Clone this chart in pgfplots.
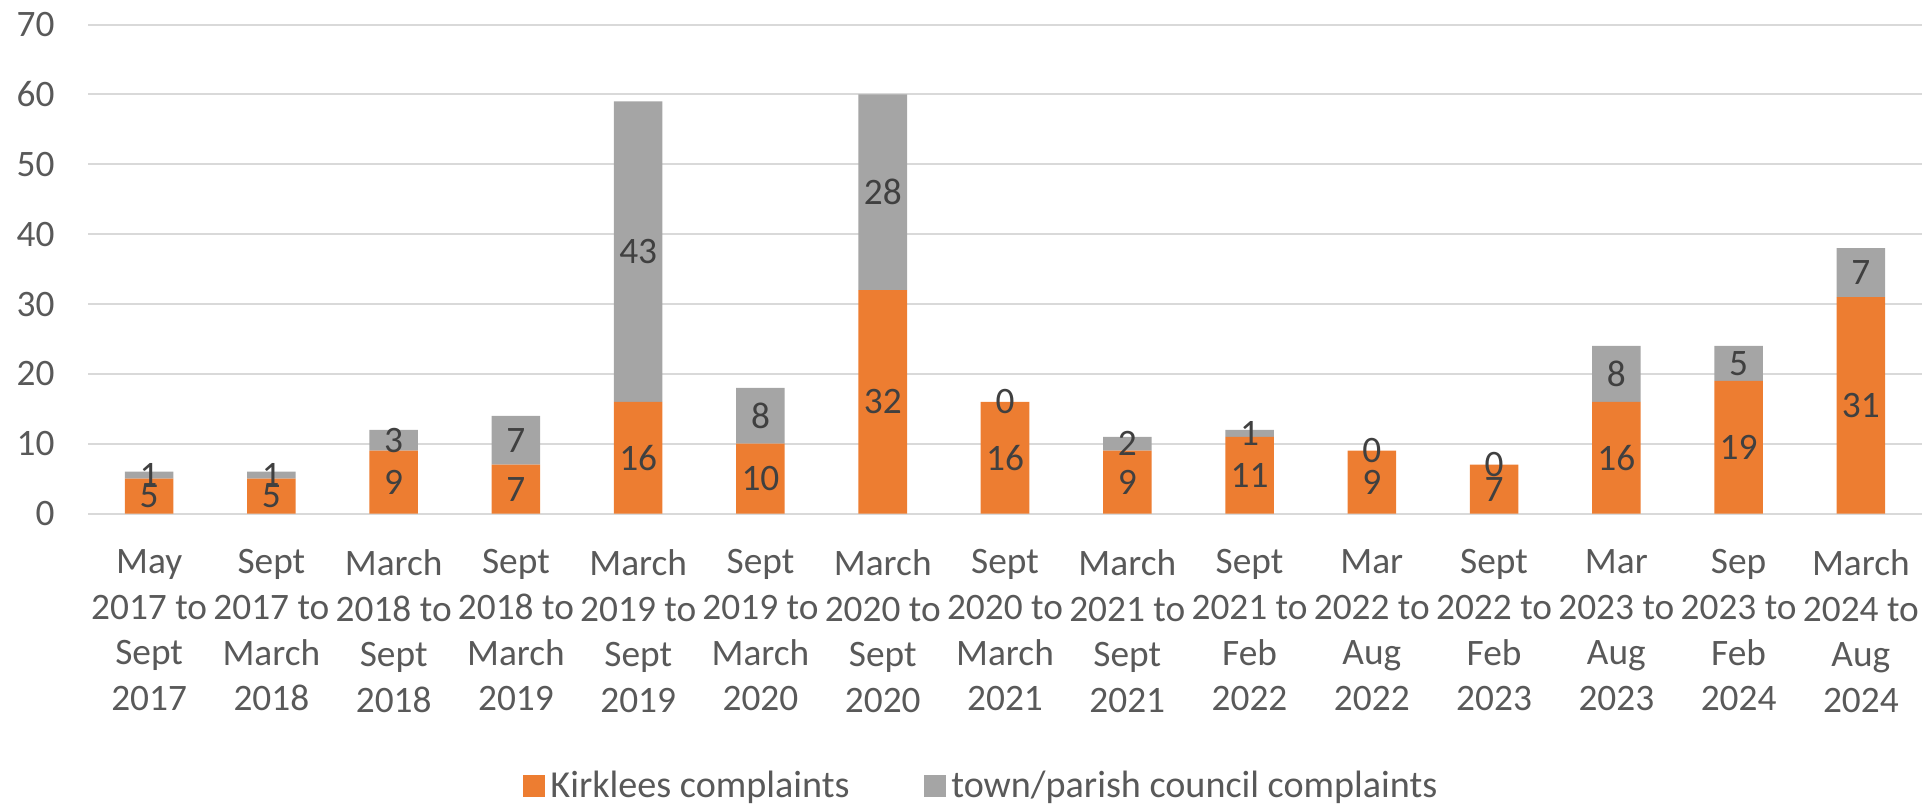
\documentclass[border=0pt]{standalone}
\usepackage{fontspec}
\setmainfont{Carlito}
\usepackage{pgfplots}
\pgfplotsset{compat=1.18}
\definecolor{korange}{HTML}{ED7D31}
\definecolor{kgray}{HTML}{A5A5A5}
\definecolor{gridc}{HTML}{D9D9D9}
\definecolor{tickc}{HTML}{595959}
\definecolor{labc}{HTML}{404040}
\pgfplotsset{
  commonaxis/.style={
    scale only axis,
    width=687.75pt, height=183.4pt,
    xmin=-0.5, xmax=14.5,
    ymin=0, ymax=70,
  }
}
\begin{document}
\begin{tikzpicture}
\begin{axis}[
  commonaxis,
  ybar stacked,
  bar width=18.2pt,
  ytick={0,10,...,70},
  xtick=data,
  xticklabels={
    {May\\2017 to\\Sept\\2017},
    {Sept\\2017 to\\March\\2018},
    {March\\2018 to\\Sept\\2018},
    {Sept\\2018 to\\March\\2019},
    {March\\2019 to\\Sept\\2019},
    {Sept\\2019 to\\March\\2020},
    {March\\2020 to\\Sept\\2020},
    {Sept\\2020 to\\March\\2021},
    {March\\2021 to\\Sept\\2021},
    {Sept\\2021 to\\Feb\\2022},
    {Mar\\2022 to\\Aug\\2022},
    {Sept\\2022 to\\Feb\\2023},
    {Mar\\2023 to\\Aug\\2023},
    {Sep\\2023 to\\Feb\\2024},
    {March\\2024 to\\Aug\\2024}},
  axis line style={draw=none},
  major tick style={draw=none},
  ymajorgrids,
  grid style={gridc, line width=0.75pt},
  /pgf/number format/assume math mode=true,
  tick label style={font=\fontsize{14}{17.1}\selectfont, text=tickc},
  xticklabel style={align=center, yshift=-10pt},
  yticklabel style={xshift=-9pt},
  legend style={at={(0.488,-0.557)}, anchor=center, legend columns=2, draw=none,
    font=\fontsize{14.3}{17.1}\selectfont, text=tickc,
    /tikz/every even column/.append style={column sep=26pt}},
]
\addplot[fill=korange, draw=none,
  legend image code/.code={\fill[korange] (0pt,-4.1pt) rectangle (8.2pt,4.1pt);}]
  coordinates {(0,5) (1,5) (2,9) (3,7) (4,16) (5,10) (6,32) (7,16) (8,9) (9,11) (10,9) (11,7) (12,16) (13,19) (14,31)};
\addlegendentry{Kirklees complaints}
\addplot[fill=kgray, draw=none,
  legend image code/.code={\fill[kgray] (0pt,-4.1pt) rectangle (8.2pt,4.1pt);}]
  coordinates {(0,1) (1,1) (2,3) (3,7) (4,43) (5,8) (6,28) (7,0) (8,2) (9,1) (10,0) (11,0) (12,8) (13,5) (14,7)};
\addlegendentry{town/parish council complaints}
\end{axis}
\begin{axis}[
  commonaxis,
  hide axis,
  nodes near coords,
  point meta=explicit symbolic,
  every node near coord/.append style={anchor=center,
    font=\fontsize{14}{17.1}\selectfont, text=labc},
]
% Kirklees labels at segment middles
\addplot[draw=none, mark=none, nodes near coords, point meta=explicit symbolic]
  coordinates {(0,2.5)[5] (1,2.5)[5] (2,4.5)[9] (3,3.5)[7] (4,8)[16] (5,5)[10] (6,16)[32] (7,8)[16] (8,4.5)[9] (9,5.5)[11] (10,4.5)[9] (11,3.5)[7] (12,8)[16] (13,9.5)[19] (14,15.5)[31]};
% town/parish labels at segment middles
\addplot[draw=none, mark=none, nodes near coords, point meta=explicit symbolic]
  coordinates {(0,5.5)[1] (1,5.5)[1] (2,10.5)[3] (3,10.5)[7] (4,37.5)[43] (5,14)[8] (6,46)[28] (7,16)[0] (8,10)[2] (9,11.5)[1] (10,9)[0] (11,7)[0] (12,20)[8] (13,21.5)[5] (14,34.5)[7]};
\end{axis}
\pgfresetboundingbox
\path[use as bounding box] (-33pt,-110.8pt) rectangle (691.5pt,192.6pt);
\end{tikzpicture}
\end{document}
